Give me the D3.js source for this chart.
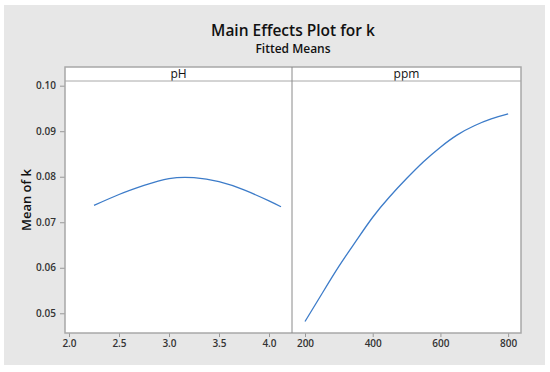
<!DOCTYPE html>
<html>
<head>
<meta charset="utf-8">
<script src="https://cdn.jsdelivr.net/npm/d3@7"></script>
<style>
  body { margin: 0; background: #fff; }
  text { font-family: "Open Sans", "Noto Sans", sans-serif; }
</style>
</head>
<body>
<div id="chart"></div>
<script>
// pH panel
const phLevels = [2.25, 2.5, 2.75, 3.0, 3.25, 3.5, 3.75, 4.0, 4.12];
const phMeans = [0.0737, 0.0761, 0.0781, 0.0796, 0.0798, 0.0789, 0.0771, 0.0747, 0.0734];
// ppm panel
const ppmLevels = [200, 250, 300, 350, 400, 450, 500, 550, 600, 650, 700, 750, 800];
const ppmMeans = [0.0482, 0.0543, 0.0603, 0.0658, 0.0711, 0.0756, 0.0796, 0.0833, 0.0865, 0.0892, 0.0912, 0.0927, 0.0938];

const yTicks = [0.05, 0.06, 0.07, 0.08, 0.09, 0.10];
const phTicks = [2.0, 2.5, 3.0, 3.5, 4.0];
const ppmTicks = [200, 400, 600, 800];

const W = 550, H = 372;
const pLeft = 65, pMid = 292, pRight = 521, pTop = 67, pStrip = 81, pBottom = 333;

const svg = d3.select("#chart").append("svg")
    .attr("width", W)
    .attr("height", H);

svg.append("rect")
    .attr("x", 4).attr("y", 5)
    .attr("width", 541).attr("height", 360)
    .attr("fill", "#e7e7e7");

const y = d3.scaleLinear().domain([0.04567, 0.10103]).range([pBottom, pStrip]);
const xPh = d3.scaleLinear().domain([1.96, 4.23]).range([pLeft, pMid]);
const xPpm = d3.scaleLinear().domain([161.6, 838]).range([pMid, pRight]);

// panel background
svg.append("rect")
    .attr("x", pLeft).attr("y", pTop)
    .attr("width", pRight - pLeft).attr("height", pBottom - pTop)
    .attr("fill", "#fff");

// titles
svg.append("text")
    .attr("x", (pLeft + pRight) / 2).attr("y", 36)
    .attr("text-anchor", "middle")
    .attr("font-size", 15.5).attr("font-weight", 600)
    .attr("fill", "#111")
    .text("Main Effects Plot for k");

svg.append("text")
    .attr("x", (pLeft + pRight) / 2).attr("y", 53)
    .attr("text-anchor", "middle")
    .attr("font-size", 12).attr("font-weight", 600)
    .attr("fill", "#111")
    .text("Fitted Means");

svg.append("text")
    .attr("transform", `translate(31, ${(pTop + pBottom) / 2}) rotate(-90)`)
    .attr("text-anchor", "middle")
    .attr("font-size", 13).attr("font-weight", 600)
    .attr("fill", "#111")
    .text("Mean of k");

// strip labels
svg.append("text")
    .attr("x", (pLeft + pMid) / 2).attr("y", 78)
    .attr("text-anchor", "middle")
    .attr("font-size", 12).attr("fill", "#111")
    .text("pH");

svg.append("text")
    .attr("x", (pMid + pRight) / 2).attr("y", 78)
    .attr("text-anchor", "middle")
    .attr("font-size", 12).attr("fill", "#111")
    .text("ppm");

// axes
const styleAxis = g => {
    g.select(".domain").remove();
    g.selectAll(".tick line").attr("stroke", "#999");
    g.selectAll(".tick text")
        .attr("font-size", 10).attr("font-weight", 600)
        .attr("fill", "#333")
        .style("font-family", "'Open Sans', 'Noto Sans', sans-serif");
};

svg.append("g")
    .attr("transform", `translate(${pLeft}, 0)`)
    .call(d3.axisLeft(y).tickValues(yTicks).tickSize(5).tickPadding(4).tickFormat(d3.format(".2f")))
    .call(styleAxis);

svg.append("g")
    .attr("transform", `translate(0, ${pBottom})`)
    .call(d3.axisBottom(xPh).tickValues(phTicks).tickSize(4).tickPadding(3).tickFormat(d3.format(".1f")))
    .call(styleAxis);

svg.append("g")
    .attr("transform", `translate(0, ${pBottom})`)
    .call(d3.axisBottom(xPpm).tickValues(ppmTicks).tickSize(4).tickPadding(3).tickFormat(d3.format("d")))
    .call(styleAxis);

// curves
const phLine = d3.line()
    .x((d, i) => xPh(phLevels[i]))
    .y(d => y(d))
    .curve(d3.curveNatural);

const ppmLine = d3.line()
    .x((d, i) => xPpm(ppmLevels[i]))
    .y(d => y(d))
    .curve(d3.curveNatural);

svg.append("path")
    .datum(phMeans)
    .attr("d", phLine)
    .attr("fill", "none")
    .attr("stroke", "#3d7cc9")
    .attr("stroke-width", 1.3);

svg.append("path")
    .datum(ppmMeans)
    .attr("d", ppmLine)
    .attr("fill", "none")
    .attr("stroke", "#3d7cc9")
    .attr("stroke-width", 1.3);

// frame, strip line and divider
svg.append("rect")
    .attr("x", pLeft).attr("y", pTop)
    .attr("width", pRight - pLeft).attr("height", pBottom - pTop)
    .attr("fill", "none")
    .attr("stroke", "#a8a8a8")
    .attr("stroke-width", 1.5);

svg.append("line")
    .attr("x1", pLeft).attr("x2", pRight)
    .attr("y1", pStrip).attr("y2", pStrip)
    .attr("stroke", "#a8a8a8").attr("stroke-width", 1);

svg.append("line")
    .attr("x1", pMid).attr("x2", pMid)
    .attr("y1", pTop).attr("y2", pBottom)
    .attr("stroke", "#8a8a8a").attr("stroke-width", 1);
</script>
</body>
</html>
